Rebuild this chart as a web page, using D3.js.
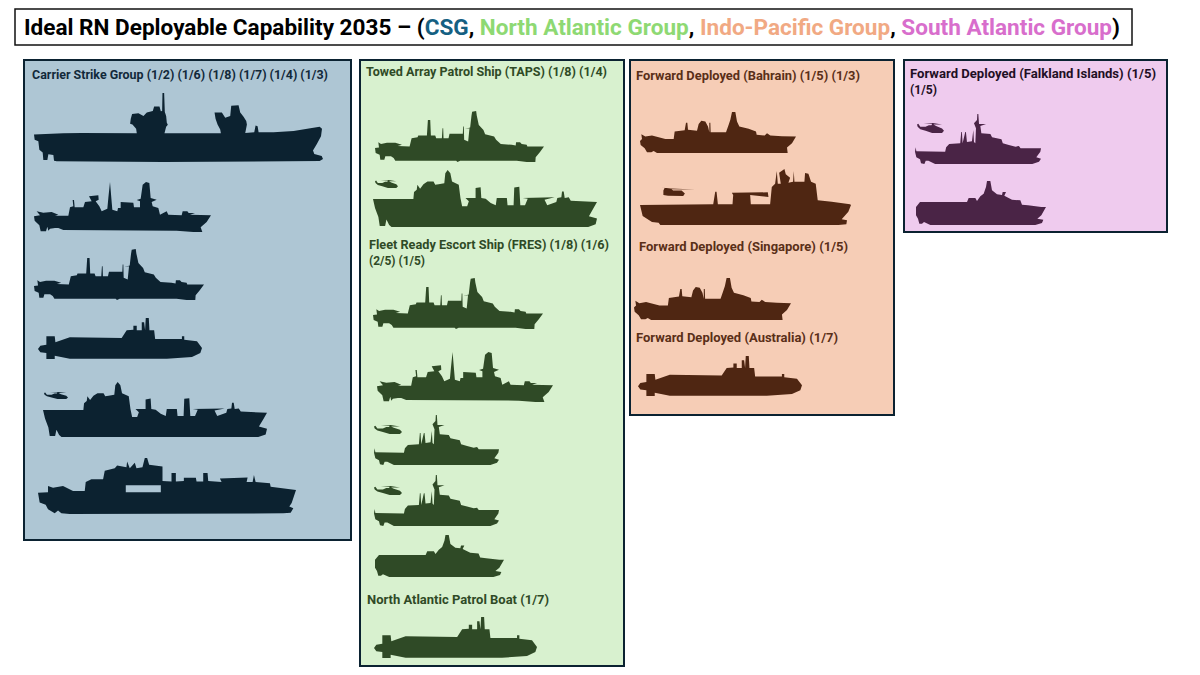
<!DOCTYPE html>
<html>
<head>
<meta charset="utf-8">
<script src="https://cdn.jsdelivr.net/npm/d3@7"></script>
<style>
html, body { margin: 0; padding: 0; background: #fff; }
text { font-family: Roboto, sans-serif; font-weight: 700; }
</style>
</head>
<body>
<div id="chart"></div>
<script>
// Content
var titleParts = ["Ideal RN Deployable Capability 2035 – (", "CSG", ", ", "North Atlantic Group", ", ", "Indo-Pacific Group", ", ", "South Atlantic Group", ")"];
var panelNames = ["csg", "northAtlantic", "indoPacific", "southAtlantic"];
var csgLabels = ["Carrier Strike Group (1/2) (1/6) (1/8) (1/7) (1/4) (1/3)"];
var northLabels = ["Towed Array Patrol Ship (TAPS) (1/8) (1/4)", "Fleet Ready Escort Ship (FRES) (1/8) (1/6)", "(2/5) (1/5)", "North Atlantic Patrol Boat (1/7)"];
var indoLabels = ["Forward Deployed (Bahrain) (1/5) (1/3)", "Forward Deployed (Singapore) (1/5)", "Forward Deployed (Australia) (1/7)"];
var southLabels = ["Forward Deployed (Falkland Islands) (1/5)", "(1/5)"];
var csgShips = ["carrier", "destroyer", "frigate", "submarine", "tanker", "supportShip"];
var northShips = ["frigate", "tanker", "frigate", "destroyer", "patrol", "patrol", "iceShip", "submarine"];
var indoShips = ["sloop", "landingShip", "sloop", "submarine"];
var southShips = ["patrol", "iceShip"];
var csgAircraft = ["helicopter"];
var northAircraft = ["helicopter", "helicopter", "helicopter"];
var indoAircraft = ["chinook"];
var southAircraft = ["helicopter"];

// Silhouette outlines, traced in their own drawing units
var outlines = {
    carrier: [[12,135],[100,131],[155,130],[320,131],[318,118],[307,105],[300,103],[302,88],[306,74],[325,72],[340,80],[350,70],[368,65],[372,52],[388,52],[392,66],[396,65],[397,12],[402,12],[404,68],[408,80],[410,100],[413,106],[408,112],[403,131],[572,131],[570,120],[562,105],[556,88],[553,70],[575,70],[585,85],[600,80],[603,50],[625,48],[630,70],[640,82],[648,95],[650,105],[645,130],[672,128],[676,108],[682,110],[685,128],[730,128],[790,124],[840,116],[868,112],[875,118],[872,140],[860,162],[848,182],[852,192],[874,198],[878,207],[868,213],[400,216],[80,214],[72,212],[70,195],[55,193],[52,210],[40,210],[38,188],[28,180],[25,155],[14,150]],
    destroyer: [[12,115],[30,112],[20,100],[40,104],[65,102],[85,110],[75,113],[115,113],[120,88],[130,85],[128,66],[132,66],[134,88],[160,88],[165,72],[185,70],[177,55],[205,52],[206,65],[197,70],[208,85],[215,100],[232,92],[235,60],[240,12],[244,60],[247,95],[262,100],[264,90],[272,90],[272,72],[310,74],[312,88],[330,88],[330,70],[320,66],[332,62],[338,20],[348,12],[358,15],[362,60],[380,65],[365,72],[368,85],[385,90],[390,110],[400,105],[410,100],[415,110],[455,112],[458,100],[472,100],[476,105],[495,105],[480,110],[543,112],[530,132],[512,148],[517,162],[490,162],[440,158],[100,156],[85,150],[75,150],[60,152],[55,158],[52,146],[48,160],[32,160],[28,142],[14,128]],
    frigate: [[14,130],[26,128],[24,112],[32,118],[50,114],[75,114],[95,120],[82,124],[118,125],[124,100],[142,97],[144,92],[170,92],[173,45],[180,45],[182,92],[195,92],[198,100],[215,100],[217,70],[219,70],[220,100],[235,100],[238,87],[278,87],[279,65],[281,65],[282,105],[294,110],[298,70],[285,72],[300,68],[304,32],[306,20],[318,18],[320,32],[326,60],[340,75],[345,88],[372,95],[378,105],[392,118],[425,120],[437,122],[438,112],[450,112],[455,118],[470,120],[472,125],[522,125],[510,142],[497,158],[496,172],[470,172],[440,168],[270,168],[262,172],[258,168],[75,168],[70,160],[62,155],[45,155],[42,165],[30,165],[28,150],[16,145]],
    submarine: [[55,148],[62,138],[80,135],[80,110],[105,110],[107,128],[150,113],[305,115],[320,92],[340,90],[340,78],[350,78],[350,92],[365,92],[365,68],[372,68],[375,92],[377,55],[386,55],[388,92],[402,92],[405,118],[485,118],[485,110],[492,110],[492,120],[530,125],[545,145],[540,160],[515,172],[440,177],[150,177],[105,168],[105,178],[80,178],[80,160],[62,158]],
    tanker: [[10,93],[130,93],[132,72],[140,65],[142,50],[150,62],[160,48],[172,40],[190,40],[195,50],[205,48],[222,45],[225,15],[232,5],[240,15],[245,40],[265,50],[270,90],[275,115],[290,115],[295,100],[285,90],[315,90],[315,60],[330,57],[332,90],[345,92],[360,105],[375,112],[378,90],[408,90],[410,112],[428,112],[430,58],[445,56],[448,112],[462,112],[470,92],[455,90],[550,88],[520,95],[528,112],[555,102],[558,90],[570,88],[572,70],[577,70],[580,90],[592,88],[598,98],[676,102],[665,122],[652,145],[676,152],[672,170],[650,178],[65,178],[58,172],[50,155],[46,175],[30,175],[26,148],[16,120]],
    supportShip: [[55,580],[85,578],[85,560],[100,565],[130,560],[160,575],[195,575],[198,548],[215,540],[250,540],[255,515],[285,508],[292,500],[320,505],[322,488],[330,508],[345,492],[350,508],[368,505],[375,478],[382,478],[388,498],[428,503],[428,545],[455,547],[455,522],[468,522],[468,547],[492,545],[492,536],[528,536],[530,547],[550,547],[550,522],[563,522],[565,545],[605,548],[600,538],[683,535],[680,548],[698,548],[702,528],[707,548],[750,552],[752,562],[828,572],[815,610],[808,620],[820,625],[812,638],[790,640],[150,642],[125,640],[115,632],[105,640],[85,628],[78,615],[60,608]],
    patrol: [[10,125],[12,112],[14,124],[100,125],[103,112],[112,102],[145,100],[148,66],[150,66],[152,100],[160,66],[162,66],[165,96],[180,94],[184,60],[186,96],[190,100],[192,55],[186,40],[195,30],[196,12],[199,12],[201,42],[222,42],[205,48],[208,70],[235,72],[240,82],[268,88],[272,100],[290,105],[310,110],[320,108],[325,115],[386,115],[384,125],[372,142],[386,146],[380,155],[360,162],[70,162],[50,152],[42,152],[38,162],[28,160],[25,148],[14,142]],
    iceShip: [[12,290],[24,275],[165,275],[170,263],[190,263],[195,272],[205,258],[215,250],[222,230],[225,212],[235,212],[240,240],[255,252],[270,254],[272,245],[282,245],[277,256],[300,268],[325,270],[330,283],[348,285],[388,290],[402,290],[388,315],[376,325],[394,328],[390,338],[370,344],[55,344],[36,335],[30,340],[22,340],[18,325],[12,315]],
    sloop: [[14,98],[20,92],[18,78],[30,85],[50,82],[90,92],[115,92],[118,70],[148,66],[152,44],[156,44],[158,65],[185,68],[190,48],[198,38],[210,40],[218,55],[222,72],[222,44],[225,44],[226,72],[272,72],[280,50],[285,35],[290,12],[300,12],[305,40],[312,55],[340,62],[362,70],[364,80],[388,82],[395,75],[405,82],[440,84],[482,85],[470,105],[455,118],[457,134],[420,134],[130,134],[65,134],[55,128],[48,132],[35,132],[28,120],[16,110]],
    landingShip: [[14,292],[234,290],[240,252],[244,252],[248,290],[292,290],[294,262],[290,255],[398,254],[400,268],[345,262],[347,290],[405,290],[410,238],[420,228],[425,190],[428,228],[437,228],[432,195],[448,184],[452,200],[465,210],[460,225],[474,222],[476,190],[478,222],[508,222],[510,196],[520,198],[528,222],[542,228],[548,278],[590,282],[645,290],[648,292],[640,312],[620,335],[636,338],[634,350],[610,352],[75,352],[70,345],[50,343],[22,325]],
    helicopter: [[14,46],[18,44],[24,52],[40,52],[50,48],[58,48],[60,44],[34,42],[62,42],[90,46],[64,46],[72,50],[90,56],[96,62],[90,68],[60,68],[40,62],[24,58],[16,52]],
    chinook: [[70,240],[90,242],[86,250],[86,262],[100,264],[145,265],[150,258],[140,250],[115,250],[110,246],[180,247],[108,244],[95,243]],
    hangarWindow: [[318,558],[423,558],[423,578],[318,578]]
};

// Layout only from here down
var width = 1200, height = 675;
var panelBoxes = {
    csg: {x0: 24, x1: 351, y0: 60, y1: 540, fill: "#aec6d4", ink: "#0c2230"},
    northAtlantic: {x0: 360, x1: 624, y0: 60, y1: 666, fill: "#d8f1cf", ink: "#2f4a26"},
    indoPacific: {x0: 630, x1: 894, y0: 60, y1: 415, fill: "#f6cdb6", ink: "#4f2612"},
    southAtlantic: {x0: 904, x1: 1167, y0: 60, y1: 232, fill: "#efcbee", ink: "#4a2446"}
};
var titleColours = ["#000", "#156082", "#000", "#8ed973", "#000", "#f1a983", "#000", "#d86ecc", "#000"];
var labelSpots = {
    csg: [[32, 79, 296]],
    northAtlantic: [[366, 76, 241], [369, 249, 240], [369, 265, 56], [367, 604, 182]],
    indoPacific: [[636, 80, 224], [639, 251, 209], [636, 342, 202]],
    southAtlantic: [[910, 78, 246], [910, 94, 27]]
};
var labelInk = {csg: "#12293a", northAtlantic: "#2f4a26", indoPacific: "#5a2f18", southAtlantic: "#1f0f25"};
var shipSpots = {
    csg: [[34,323,93,162],[34,211,182,232],[34,204,249,300],[38,202,318,359],[43,267,382,437],[38,296,458,514]],
    northAtlantic: [[375,544,111,162],[373,597,170,227],[373,543,278,329],[377,553,352,402],[374,499,415,465],[374,499,475,526],[375,504,535,577],[374,537,617,658]],
    indoPacific: [[640,796,112,153],[640,851,169,225],[634,791,278,320],[638,802,356,396]],
    southAtlantic: [[915,1041,114,164],[916,1046,181,225]]
};
var aircraftSpots = {
    csg: [[44,68,392,399]],
    northAtlantic: [[375,398,180,188],[374,402,425,434],[374,402,486,495]],
    indoPacific: [[658,695,187,196]],
    southAtlantic: [[917,944,123,133]]
};
var labelsByPanel = {csg: csgLabels, northAtlantic: northLabels, indoPacific: indoLabels, southAtlantic: southLabels};
var shipsByPanel = {csg: csgShips, northAtlantic: northShips, indoPacific: indoShips, southAtlantic: southShips};
var aircraftByPanel = {csg: csgAircraft, northAtlantic: northAircraft, indoPacific: indoAircraft, southAtlantic: southAircraft};

var svg = d3.select("#chart")
    .append("svg")
    .attr("width", width)
    .attr("height", height)
    .style("display", "block");

// Stretch an outline into its box with a pair of scales
function outlinePath(points, box, frame) {
    var ref = frame || points;
    var x = d3.scaleLinear().domain(d3.extent(ref, d => d[0])).range([box[0], box[1]]);
    var y = d3.scaleLinear().domain(d3.extent(ref, d => d[1])).range([box[2], box[3]]);
    return d3.line().x(d => x(d[0])).y(d => y(d[1]))(points) + "Z";
}

// Title box
svg.append("rect")
    .attr("x", 15).attr("y", 9)
    .attr("width", 1117).attr("height", 36)
    .attr("fill", "#fff")
    .attr("stroke", "#111")
    .attr("stroke-width", 1.5);

svg.append("text")
    .attr("x", 24).attr("y", 35)
    .attr("font-size", 22)
    .attr("textLength", 1096)
    .attr("lengthAdjust", "spacingAndGlyphs")
    .selectAll("tspan")
    .data(titleParts)
    .enter()
    .append("tspan")
    .attr("fill", (d, i) => titleColours[i])
    .text(d => d);

// Panels
panelNames.forEach(function(name) {
    var box = panelBoxes[name];
    var g = svg.append("g").attr("class", name);

    g.append("rect")
        .attr("x", box.x0).attr("y", box.y0)
        .attr("width", box.x1 - box.x0).attr("height", box.y1 - box.y0)
        .attr("fill", box.fill)
        .attr("stroke", "#0b2231")
        .attr("stroke-width", 2);

    g.selectAll("text")
        .data(labelsByPanel[name])
        .enter()
        .append("text")
        .attr("x", (d, i) => labelSpots[name][i][0])
        .attr("y", (d, i) => labelSpots[name][i][1])
        .attr("textLength", (d, i) => labelSpots[name][i][2])
        .attr("lengthAdjust", "spacingAndGlyphs")
        .attr("font-size", 12.5)
        .attr("fill", labelInk[name])
        .text(d => d);

    g.selectAll("path.ship")
        .data(shipsByPanel[name])
        .enter()
        .append("path")
        .attr("class", "ship")
        .attr("d", (d, i) => outlinePath(outlines[d], shipSpots[name][i]))
        .attr("fill", box.ink);

    g.selectAll("path.aircraft")
        .data(aircraftByPanel[name])
        .enter()
        .append("path")
        .attr("class", "aircraft")
        .attr("d", (d, i) => outlinePath(outlines[d], aircraftSpots[name][i]))
        .attr("fill", box.ink);
});

// Hangar opening in the support ship, drawn in the same frame as its outline
svg.append("path")
    .attr("d", outlinePath(outlines.hangarWindow, shipSpots.csg[5], outlines.supportShip))
    .attr("fill", panelBoxes.csg.fill);
</script>
</body>
</html>
